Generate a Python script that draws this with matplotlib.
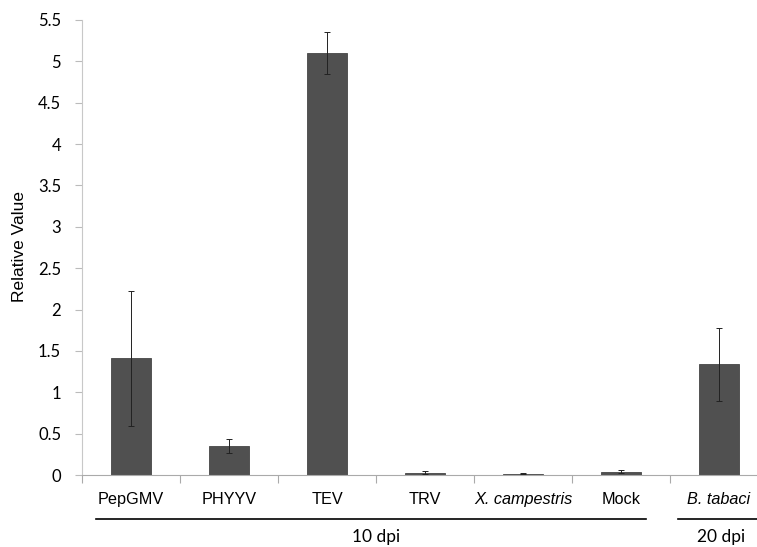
import matplotlib
matplotlib.use("Agg")
import matplotlib.pyplot as plt
import matplotlib.transforms as mtransforms

categories = ["PepGMV", "PHYYV", "TEV", "TRV", "X. campestris", "Mock", "B. tabaci"]
italic = [False, False, False, False, True, False, True]
values = [1.41, 0.35, 5.10, 0.03, 0.015, 0.04, 1.34]
errors = [0.82, 0.09, 0.25, 0.015, 0.005, 0.02, 0.44]
groups = ["10 dpi", "20 dpi"]
yticks = [0, 0.5, 1, 1.5, 2, 2.5, 3, 3.5, 4, 4.5, 5, 5.5]
ytick_labels = ["0", "0.5", "1", "1.5", "2", "2.5", "3", "3.5", "4", "4.5", "5", "5.5"]

plt.rcParams['font.family'] = ['Liberation Sans', 'DejaVu Sans']

fig = plt.figure(figsize=(7.57, 5.47), dpi=100)
ax = fig.add_axes([82/757, 72/547, 686/757, 455/547])

x = list(range(len(categories)))
ax.bar(x, values, width=0.4, color="#505050", edgecolor="#454545", linewidth=0.6, zorder=2)
ax.errorbar(x, values, yerr=errors, fmt="none", ecolor="#222222", elinewidth=0.7,
            capsize=2.5, capthick=0.7, zorder=3)

ax.set_xlim(-0.5, len(categories) - 0.5)
ax.set_ylim(0, 5.5)
ax.set_yticks(yticks)
ax.set_yticklabels(ytick_labels, fontsize=12, family=['Lato', 'DejaVu Sans'])
ax.tick_params(axis='y', length=5, color="#bbbbbb", width=0.8, pad=10)

ax.set_xticks([i - 0.5 for i in range(len(categories) + 1)])
ax.set_xticklabels([])
ax.tick_params(axis='x', which='major', length=6, color="#aaaaaa", width=0.8, direction='out')
ax.set_xticks(x, minor=True)
ax.set_xticklabels(categories, minor=True, fontsize=11.7)
ax.tick_params(axis='x', which='minor', length=0, pad=12)
for lbl, it in zip(ax.get_xticklabels(minor=True), italic):
    if it:
        lbl.set_fontstyle('italic')

for s in ['top', 'right']:
    ax.spines[s].set_visible(False)
ax.spines['left'].set_color("#c8c8c8")
ax.spines['left'].set_linewidth(0.8)
ax.spines['bottom'].set_color("#aaaaaa")
ax.spines['bottom'].set_linewidth(0.8)

fig.text(20/757, 1 - 246.5/547, "Relative Value", rotation=90, ha='center', va='center',
         fontsize=12.5)

# group lines and labels
trans = mtransforms.blended_transform_factory(ax.transData, fig.transFigure)
y_line = 1 - 519/547
y_text = 1 - 542/547
ax.plot([-0.357, 5.252], [y_line, y_line], transform=trans, color="black", lw=1.2, clip_on=False)
ax.plot([5.58, 6.6], [y_line, y_line], transform=trans, color="black", lw=1.2, clip_on=False)
fig.text(2.5, y_text, groups[0], transform=trans, ha='center', va='baseline', fontsize=12.5,
         family=['Lato', 'DejaVu Sans'])
fig.text(6.02, y_text, groups[1], transform=trans, ha='center', va='baseline', fontsize=12.5,
         family=['Lato', 'DejaVu Sans'])

fig.savefig("out.png", dpi=100)
